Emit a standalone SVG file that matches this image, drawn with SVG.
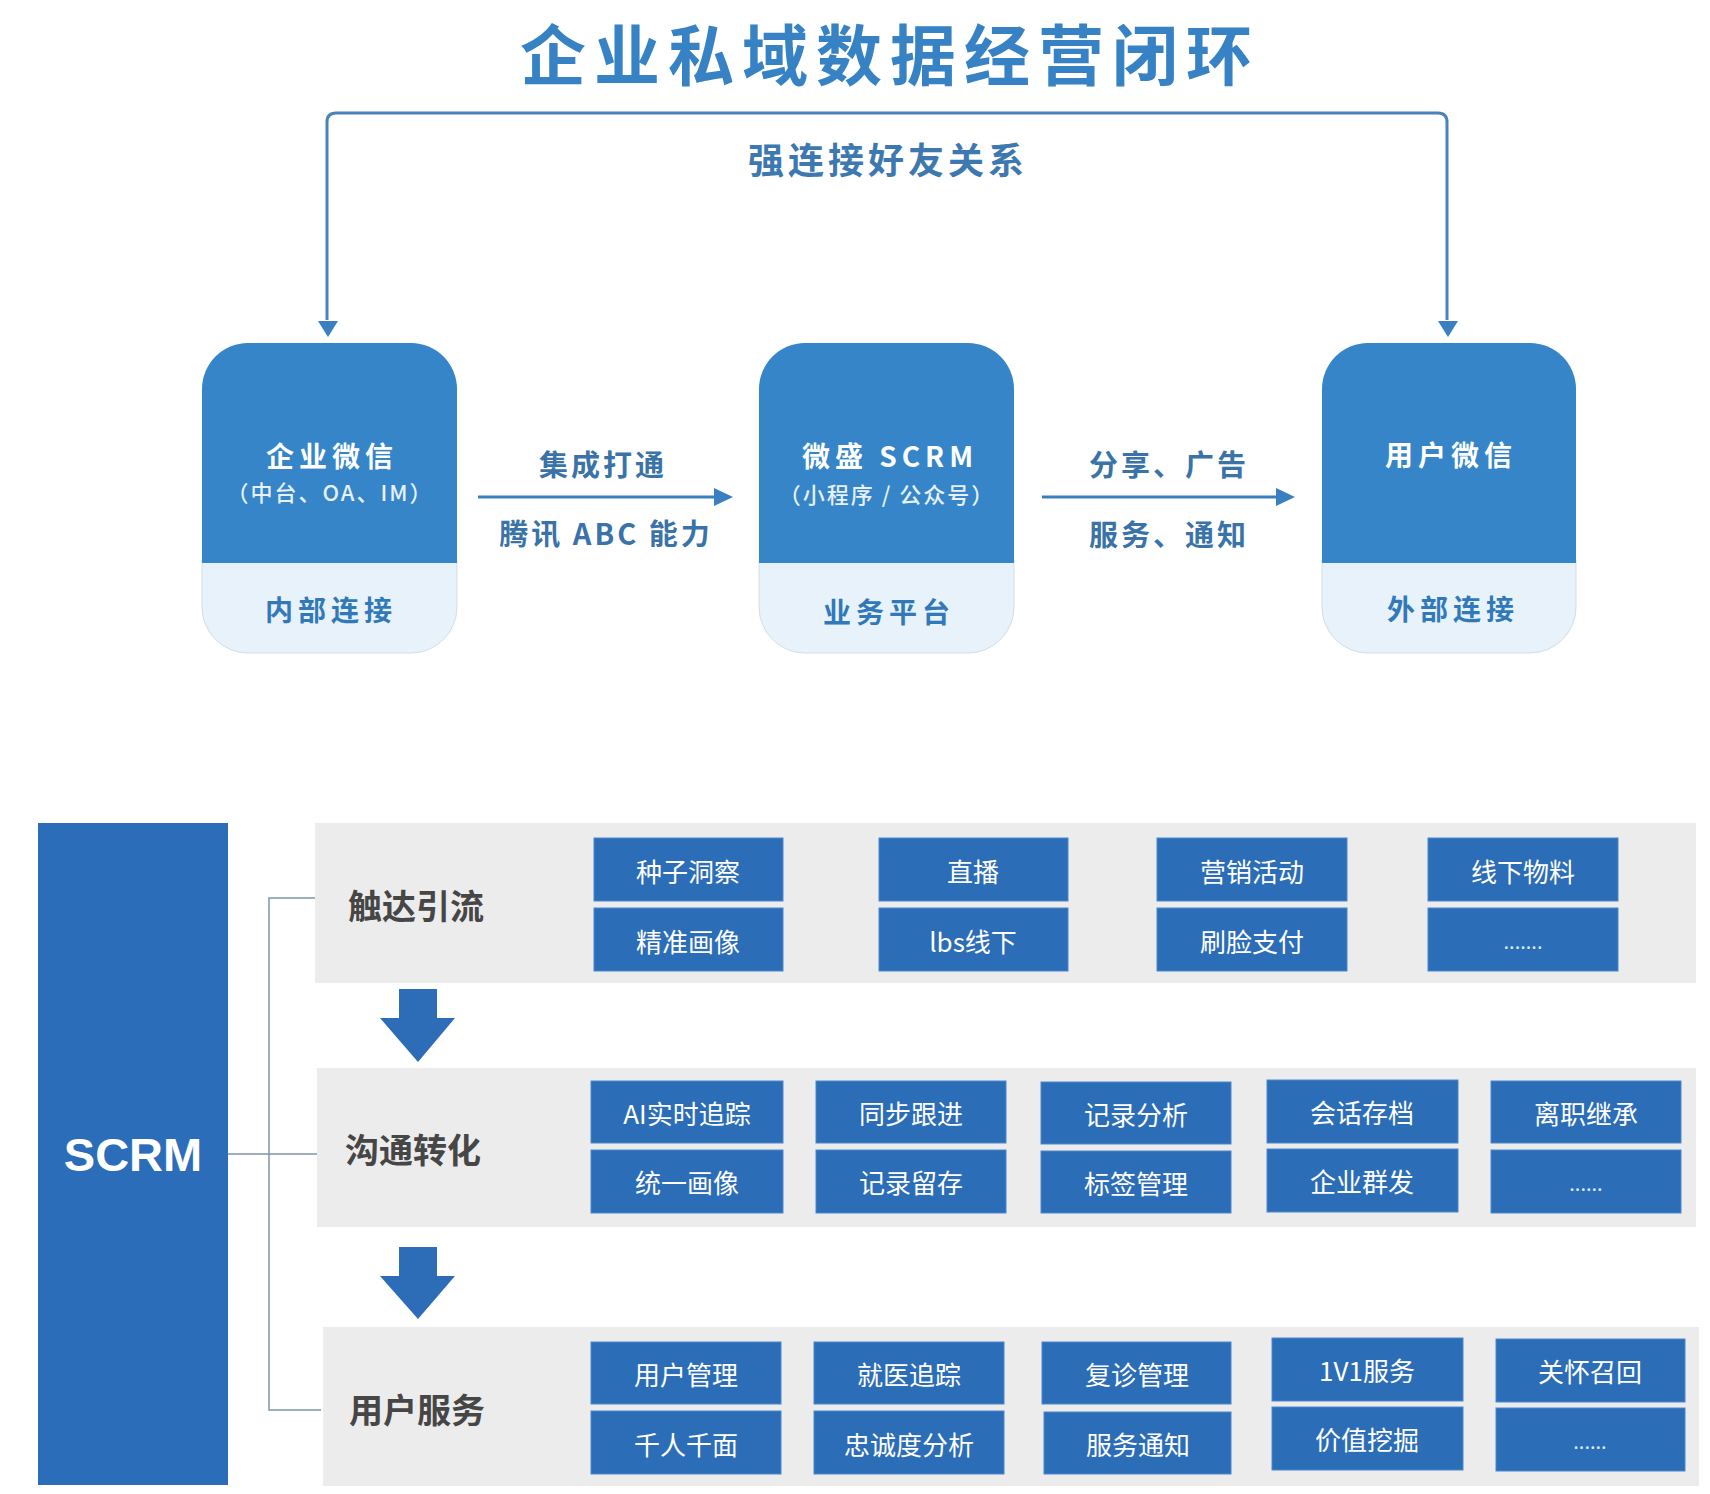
<svg xmlns="http://www.w3.org/2000/svg" width="1710" height="1494" viewBox="0 0 1710 1494">
<defs>
<style>
.cjk{font-family:"Noto Sans CJK SC","Noto Sans",sans-serif;}
.title{font-size:66px;font-weight:700;fill:#3682c4;letter-spacing:8px;}
.sub{font-size:36px;font-weight:700;fill:#3d79b0;letter-spacing:4px;}
.nodeMain{fill:#3585c8;}
.nodeLight{fill:#e7f2fa;stroke:#d5dde4;stroke-width:1;}
.nt1{font-size:28px;font-weight:700;fill:#ffffff;letter-spacing:5px;}
.nt2{font-size:22px;font-weight:500;fill:#e8f1fa;letter-spacing:2px;}
.nt3{font-size:28px;font-weight:700;fill:#3279b9;letter-spacing:5px;}
.lbl{font-size:29px;font-weight:700;fill:#3a73a8;letter-spacing:3px;}
.link{fill:none;stroke:#4a83ba;stroke-width:3;}
.flow{fill:none;stroke:#3a7fbf;stroke-width:3;}
.panel{fill:#ececec;}
.item{fill:#2c6db7;stroke:#4a88cf;stroke-width:1;}
.it{font-size:26px;fill:#ffffff;}
.dots{font-size:20px;fill:#dce9f7;}
.row{font-size:34px;font-weight:700;fill:#464646;}
.brk{fill:none;stroke:#7f95ad;stroke-width:1.5;}
.down{fill:#2d6db7;}
.scrm{fill:#2b6db8;}
.arrowhead{fill:#3a7fbf;}
</style>
</defs>
<rect x="0" y="0" width="1710" height="1494" fill="#ffffff"/>

<g id="title">
<text class="cjk title" x="890" y="51" text-anchor="middle" dominant-baseline="central">企业私域数据经营闭环</text>
</g>

<g id="connectors">
<path class="link" d="M327,320 V122 Q327,113 336,113 H1438 Q1447,113 1447,122 V320"/>
<path class="arrowhead" d="M318,321 L338,321 L328,337 Z"/>
<path class="arrowhead" d="M1438,321 L1458,321 L1448,337 Z"/>
<line class="flow" x1="478" y1="497" x2="716" y2="497"/>
<path class="arrowhead" d="M714,488 L733,497 L714,506 Z"/>
<line class="flow" x1="1042" y1="497" x2="1278" y2="497"/>
<path class="arrowhead" d="M1276,488 L1295,497 L1276,506 Z"/>
<polyline class="brk" points="316,898 269,898 269,1410 321,1410"/>
<line class="brk" x1="228" y1="1154" x2="318" y2="1154"/>
<path class="down" d="M399,989 H437 V1018 H455 L418,1062 L380,1018 H399 Z"/>
<path class="down" d="M399,1247 H437 V1276 H455 L418,1319 L380,1276 H399 Z"/>
</g>

<g id="label-top">
<text class="cjk sub" x="888" y="158" text-anchor="middle" dominant-baseline="central">强连接好友关系</text>
</g>
<g id="label-arrow1">
<text class="cjk lbl" x="603" y="463" text-anchor="middle" dominant-baseline="central">集成打通</text>
<text class="cjk lbl" x="606" y="532" text-anchor="middle" dominant-baseline="central">腾讯 ABC 能力</text>
</g>
<g id="label-arrow2">
<text class="cjk lbl" x="1169" y="463" text-anchor="middle" dominant-baseline="central">分享、广告</text>
<text class="cjk lbl" x="1169" y="533" text-anchor="middle" dominant-baseline="central">服务、通知</text>
</g>

<g id="node-qywx">
<path class="nodeLight" d="M202,560 H457 V607 A46,46 0 0 1 411,653 H248 A46,46 0 0 1 202,607 Z"/>
<path class="nodeMain" d="M202,563 V389 A46,46 0 0 1 248,343 H411 A46,46 0 0 1 457,389 V563 Z"/>
<text class="cjk nt1" x="332" y="455" text-anchor="middle" dominant-baseline="central">企业微信</text>
<text class="cjk nt2" x="330" y="491" text-anchor="middle" dominant-baseline="central">（中台、OA、IM）</text>
<text class="cjk nt3" x="331" y="609" text-anchor="middle" dominant-baseline="central">内部连接</text>
</g>

<g id="node-scrm-platform">
<path class="nodeLight" d="M759,560 H1014 V607 A46,46 0 0 1 968,653 H805 A46,46 0 0 1 759,607 Z"/>
<path class="nodeMain" d="M759,563 V389 A46,46 0 0 1 805,343 H968 A46,46 0 0 1 1014,389 V563 Z"/>
<text class="cjk nt1" x="890" y="455" text-anchor="middle" dominant-baseline="central">微盛 SCRM</text>
<text class="cjk nt2" x="887" y="493" text-anchor="middle" dominant-baseline="central">（小程序 / 公众号）</text>
<text class="cjk nt3" x="889" y="611" text-anchor="middle" dominant-baseline="central">业务平台</text>
</g>

<g id="node-yhwx">
<path class="nodeLight" d="M1322,560 H1576 V607 A46,46 0 0 1 1530,653 H1368 A46,46 0 0 1 1322,607 Z"/>
<path class="nodeMain" d="M1322,563 V389 A46,46 0 0 1 1368,343 H1530 A46,46 0 0 1 1576,389 V563 Z"/>
<text class="cjk nt1" x="1451" y="454" text-anchor="middle" dominant-baseline="central">用户微信</text>
<text class="cjk nt3" x="1453" y="608" text-anchor="middle" dominant-baseline="central">外部连接</text>
</g>

<g id="scrm">
<rect class="scrm" x="38" y="823" width="190" height="662"/>
<text x="133" y="1154" text-anchor="middle" dominant-baseline="central" font-family="'Liberation Sans',Arial,sans-serif" font-weight="700" font-size="47" fill="#ffffff">SCRM</text>
</g>

<g id="row-reach">
<rect class="panel" x="315" y="823" width="1381" height="160"/>
<text class="cjk row" x="416" y="904" text-anchor="middle" dominant-baseline="central">触达引流</text>
</g>
<g id="row-convert">
<rect class="panel" x="317" y="1068" width="1379" height="159"/>
<text class="cjk row" x="413" y="1148" text-anchor="middle" dominant-baseline="central">沟通转化</text>
</g>
<g id="row-service">
<rect class="panel" x="323" y="1327" width="1376" height="159"/>
<text class="cjk row" x="417" y="1408" text-anchor="middle" dominant-baseline="central">用户服务</text>
</g>

<g id="items-reach">
<g id="i-zzdc"><rect class="item" x="594" y="838" width="189" height="63"/><text class="cjk it" x="688" y="870" text-anchor="middle" dominant-baseline="central">种子洞察</text></g>
<g id="i-jzhx"><rect class="item" x="594" y="908" width="189" height="63"/><text class="cjk it" x="688" y="940" text-anchor="middle" dominant-baseline="central">精准画像</text></g>
<g id="i-zb"><rect class="item" x="879" y="838" width="189" height="63"/><text class="cjk it" x="973" y="870" text-anchor="middle" dominant-baseline="central">直播</text></g>
<g id="i-lbs"><rect class="item" x="879" y="908" width="189" height="63"/><text class="cjk it" x="973" y="940" text-anchor="middle" dominant-baseline="central">lbs线下</text></g>
<g id="i-yxhd"><rect class="item" x="1157" y="838" width="190" height="63"/><text class="cjk it" x="1252" y="870" text-anchor="middle" dominant-baseline="central">营销活动</text></g>
<g id="i-slzf"><rect class="item" x="1157" y="908" width="190" height="63"/><text class="cjk it" x="1252" y="940" text-anchor="middle" dominant-baseline="central">刷脸支付</text></g>
<g id="i-xxwl"><rect class="item" x="1428" y="838" width="190" height="63"/><text class="cjk it" x="1523" y="870" text-anchor="middle" dominant-baseline="central">线下物料</text></g>
<g id="i-more1"><rect class="item" x="1428" y="908" width="190" height="63"/><text class="cjk dots" x="1523" y="940" text-anchor="middle" dominant-baseline="central">.......</text></g>
</g>

<g id="items-convert">
<g id="i-ai"><rect class="item" x="591" y="1081" width="192" height="62"/><text class="cjk it" x="687" y="1112" text-anchor="middle" dominant-baseline="central">AI实时追踪</text></g>
<g id="i-tyhx"><rect class="item" x="591" y="1150" width="192" height="63"/><text class="cjk it" x="687" y="1181" text-anchor="middle" dominant-baseline="central">统一画像</text></g>
<g id="i-tbgj"><rect class="item" x="816" y="1081" width="190" height="62"/><text class="cjk it" x="911" y="1112" text-anchor="middle" dominant-baseline="central">同步跟进</text></g>
<g id="i-jlcc"><rect class="item" x="816" y="1150" width="190" height="63"/><text class="cjk it" x="911" y="1181" text-anchor="middle" dominant-baseline="central">记录留存</text></g>
<g id="i-jlfx"><rect class="item" x="1041" y="1082" width="190" height="62"/><text class="cjk it" x="1136" y="1113" text-anchor="middle" dominant-baseline="central">记录分析</text></g>
<g id="i-bqgl"><rect class="item" x="1041" y="1151" width="190" height="62"/><text class="cjk it" x="1136" y="1182" text-anchor="middle" dominant-baseline="central">标签管理</text></g>
<g id="i-hhcd"><rect class="item" x="1267" y="1080" width="191" height="63"/><text class="cjk it" x="1362" y="1111" text-anchor="middle" dominant-baseline="central">会话存档</text></g>
<g id="i-qyqf"><rect class="item" x="1267" y="1149" width="191" height="63"/><text class="cjk it" x="1362" y="1180" text-anchor="middle" dominant-baseline="central">企业群发</text></g>
<g id="i-lzjc"><rect class="item" x="1491" y="1081" width="190" height="62"/><text class="cjk it" x="1586" y="1112" text-anchor="middle" dominant-baseline="central">离职继承</text></g>
<g id="i-more2"><rect class="item" x="1491" y="1150" width="190" height="63"/><text class="cjk dots" x="1586" y="1182" text-anchor="middle" dominant-baseline="central">......</text></g>
</g>

<g id="items-service">
<g id="i-yhgl"><rect class="item" x="591" y="1342" width="190" height="62"/><text class="cjk it" x="686" y="1373" text-anchor="middle" dominant-baseline="central">用户管理</text></g>
<g id="i-qrqm"><rect class="item" x="591" y="1411" width="190" height="63"/><text class="cjk it" x="686" y="1443" text-anchor="middle" dominant-baseline="central">千人千面</text></g>
<g id="i-jyzz"><rect class="item" x="814" y="1342" width="190" height="62"/><text class="cjk it" x="909" y="1373" text-anchor="middle" dominant-baseline="central">就医追踪</text></g>
<g id="i-zcdfx"><rect class="item" x="814" y="1411" width="190" height="63"/><text class="cjk it" x="909" y="1443" text-anchor="middle" dominant-baseline="central">忠诚度分析</text></g>
<g id="i-fzgl"><rect class="item" x="1042" y="1342" width="189" height="62"/><text class="cjk it" x="1137" y="1373" text-anchor="middle" dominant-baseline="central">复诊管理</text></g>
<g id="i-fwtz"><rect class="item" x="1044" y="1412" width="187" height="62"/><text class="cjk it" x="1138" y="1443" text-anchor="middle" dominant-baseline="central">服务通知</text></g>
<g id="i-1v1"><rect class="item" x="1272" y="1338" width="191" height="63"/><text class="cjk it" x="1367" y="1369" text-anchor="middle" dominant-baseline="central">1V1服务</text></g>
<g id="i-jzwj"><rect class="item" x="1272" y="1407" width="191" height="63"/><text class="cjk it" x="1367" y="1438" text-anchor="middle" dominant-baseline="central">价值挖掘</text></g>
<g id="i-ghzh"><rect class="item" x="1496" y="1339" width="189" height="63"/><text class="cjk it" x="1590" y="1370" text-anchor="middle" dominant-baseline="central">关怀召回</text></g>
<g id="i-more3"><rect class="item" x="1496" y="1408" width="189" height="63"/><text class="cjk dots" x="1590" y="1440" text-anchor="middle" dominant-baseline="central">......</text></g>
</g>
</svg>
